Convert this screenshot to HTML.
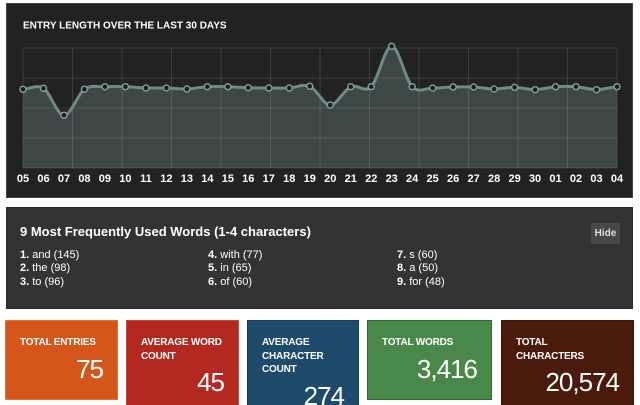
<!DOCTYPE html>
<html><head><meta charset="utf-8">
<style>
html,body{margin:0;padding:0;background:#fff;width:640px;height:405px;overflow:hidden;}
body{position:relative;font-family:"Liberation Sans",sans-serif;}
.p2{position:absolute;left:6px;top:207px;width:625px;height:100px;background:#333;border:1px solid #2a2a2a;}
.t2{position:absolute;left:20px;top:223px;font-size:13px;font-weight:bold;color:#fff;line-height:17px;white-space:nowrap;}
.col{position:absolute;top:249px;font-size:11px;line-height:13.3px;color:#fff;white-space:nowrap;}
.col b{font-weight:bold;}
.hide{position:absolute;left:591px;top:223px;width:29px;height:21px;background:#474747;color:#ddd;font-size:10px;font-weight:bold;line-height:21px;text-align:center;}
.box{position:absolute;top:320px;box-sizing:border-box;border:1px solid;color:#fff;padding:15px 14px 0 14px;overflow:hidden;}
.lab{font-size:10px;font-weight:bold;line-height:13.5px;letter-spacing:-0.2px;}
.num{font-size:26px;line-height:30px;margin-top:4px;text-align:right;letter-spacing:-1px;}
</style></head><body>
<svg width="640" height="405" style="position:absolute;left:0;top:0" xmlns="http://www.w3.org/2000/svg">
<rect x="6.5" y="3.5" width="626" height="194" fill="#222" stroke="#444" stroke-width="1"/>
<text x="23" y="28.5" font-family="Liberation Sans, sans-serif" font-size="10" font-weight="bold" fill="#fff">ENTRY LENGTH OVER THE LAST 30 DAYS</text>
<path d="M23,89.3 C29.83,89.13 36.65,83.97 43.48,88.3 C50.31,92.63 57.14,115.13 63.97,115.3 C70.80,115.47 77.62,94.07 84.45,89.3 C91.28,84.53 98.10,87.13 104.93,86.7 C111.76,86.27 118.58,86.48 125.41,86.7 C132.24,86.92 139.07,87.78 145.90,88 C152.73,88.22 159.55,87.83 166.38,88 C173.21,88.17 180.03,89.22 186.86,89 C193.69,88.78 200.51,87.08 207.34,86.7 C214.17,86.32 221.00,86.53 227.83,86.7 C234.66,86.87 241.48,87.48 248.31,87.7 C255.14,87.92 261.96,87.95 268.79,88 C275.62,88.05 282.45,88.28 289.28,88 C296.11,87.72 302.93,83.47 309.76,86.3 C316.59,89.13 323.41,104.93 330.24,105 C337.07,105.07 343.89,89.75 350.72,86.7 C357.55,83.65 364.38,93.43 371.21,86.7 C378.04,79.97 384.86,46.3 391.69,46.3 C398.52,46.3 405.34,79.75 412.17,86.7 C419.00,93.65 425.83,87.95 432.66,88 C439.49,88.05 446.31,87.17 453.14,87 C459.97,86.83 466.79,86.67 473.62,87 C480.45,87.33 487.27,88.95 494.10,89 C500.93,89.05 507.76,87.18 514.59,87.3 C521.42,87.42 528.24,89.8 535.07,89.7 C541.90,89.6 548.72,87.2 555.55,86.7 C562.38,86.2 569.20,86.2 576.03,86.7 C582.86,87.2 589.69,89.7 596.52,89.7 C603.35,89.7 610.17,87.2 617,86.7 L617,168 L23,168 Z" fill="#3d4746"/>
<g stroke="rgba(255,255,255,0.12)" stroke-width="1" fill="none">
<path d="M23,48H617M23,78H617M23,108H617M23,138H617M23,168H617"/>
<path d="M23,48V168M72.5,48V168M122,48V168M171.5,48V168M221,48V168M270.5,48V168M320,48V168M369.5,48V168M419,48V168M468.5,48V168M518,48V168M567.5,48V168M617,48V168"/>
</g>
<path d="M23,89.3 C29.83,89.13 36.65,83.97 43.48,88.3 C50.31,92.63 57.14,115.13 63.97,115.3 C70.80,115.47 77.62,94.07 84.45,89.3 C91.28,84.53 98.10,87.13 104.93,86.7 C111.76,86.27 118.58,86.48 125.41,86.7 C132.24,86.92 139.07,87.78 145.90,88 C152.73,88.22 159.55,87.83 166.38,88 C173.21,88.17 180.03,89.22 186.86,89 C193.69,88.78 200.51,87.08 207.34,86.7 C214.17,86.32 221.00,86.53 227.83,86.7 C234.66,86.87 241.48,87.48 248.31,87.7 C255.14,87.92 261.96,87.95 268.79,88 C275.62,88.05 282.45,88.28 289.28,88 C296.11,87.72 302.93,83.47 309.76,86.3 C316.59,89.13 323.41,104.93 330.24,105 C337.07,105.07 343.89,89.75 350.72,86.7 C357.55,83.65 364.38,93.43 371.21,86.7 C378.04,79.97 384.86,46.3 391.69,46.3 C398.52,46.3 405.34,79.75 412.17,86.7 C419.00,93.65 425.83,87.95 432.66,88 C439.49,88.05 446.31,87.17 453.14,87 C459.97,86.83 466.79,86.67 473.62,87 C480.45,87.33 487.27,88.95 494.10,89 C500.93,89.05 507.76,87.18 514.59,87.3 C521.42,87.42 528.24,89.8 535.07,89.7 C541.90,89.6 548.72,87.2 555.55,86.7 C562.38,86.2 569.20,86.2 576.03,86.7 C582.86,87.2 589.69,89.7 596.52,89.7 C603.35,89.7 610.17,87.2 617,86.7" fill="none" stroke="#6d8a87" stroke-width="3"/>
<g fill="#1c1c1c" stroke="#7d9a96" stroke-width="1.5">
<circle cx="23" cy="89.3" r="3"/><circle cx="43.48" cy="88.3" r="3"/><circle cx="63.97" cy="115.3" r="3"/><circle cx="84.45" cy="89.3" r="3"/><circle cx="104.93" cy="86.7" r="3"/><circle cx="125.41" cy="86.7" r="3"/><circle cx="145.90" cy="88" r="3"/><circle cx="166.38" cy="88" r="3"/><circle cx="186.86" cy="89" r="3"/><circle cx="207.34" cy="86.7" r="3"/><circle cx="227.83" cy="86.7" r="3"/><circle cx="248.31" cy="87.7" r="3"/><circle cx="268.79" cy="88" r="3"/><circle cx="289.28" cy="88" r="3"/><circle cx="309.76" cy="86.3" r="3"/><circle cx="330.24" cy="105" r="3"/><circle cx="350.72" cy="86.7" r="3"/><circle cx="371.21" cy="86.7" r="3"/><circle cx="391.69" cy="46.3" r="3"/><circle cx="412.17" cy="86.7" r="3"/><circle cx="432.66" cy="88" r="3"/><circle cx="453.14" cy="87" r="3"/><circle cx="473.62" cy="87" r="3"/><circle cx="494.10" cy="89" r="3"/><circle cx="514.59" cy="87.3" r="3"/><circle cx="535.07" cy="89.7" r="3"/><circle cx="555.55" cy="86.7" r="3"/><circle cx="576.03" cy="86.7" r="3"/><circle cx="596.52" cy="89.7" r="3"/><circle cx="617" cy="86.7" r="3"/>
</g>
<g font-family="Liberation Sans, sans-serif" font-size="11" font-weight="bold" fill="#fff" text-anchor="middle">
<text x="23" y="182">05</text><text x="43.48" y="182">06</text><text x="63.97" y="182">07</text><text x="84.45" y="182">08</text><text x="104.93" y="182">09</text><text x="125.41" y="182">10</text><text x="145.90" y="182">11</text><text x="166.38" y="182">12</text><text x="186.86" y="182">13</text><text x="207.34" y="182">14</text><text x="227.83" y="182">15</text><text x="248.31" y="182">16</text><text x="268.79" y="182">17</text><text x="289.28" y="182">18</text><text x="309.76" y="182">19</text><text x="330.24" y="182">20</text><text x="350.72" y="182">21</text><text x="371.21" y="182">22</text><text x="391.69" y="182">23</text><text x="412.17" y="182">24</text><text x="432.66" y="182">25</text><text x="453.14" y="182">26</text><text x="473.62" y="182">27</text><text x="494.10" y="182">28</text><text x="514.59" y="182">29</text><text x="535.07" y="182">30</text><text x="555.55" y="182">01</text><text x="576.03" y="182">02</text><text x="596.52" y="182">03</text><text x="617" y="182">04</text>
</g>
</svg>

<div class="p2"></div>
<div class="t2">9 Most Frequently Used Words (1-4 characters)</div>
<div class="hide">Hide</div>
<div class="col" style="left:20px"><b>1.</b> and (145)<br><b>2.</b> the (98)<br><b>3.</b> to (96)</div>
<div class="col" style="left:208px"><b>4.</b> with (77)<br><b>5.</b> in (65)<br><b>6.</b> of (60)</div>
<div class="col" style="left:397px"><b>7.</b> s (60)<br><b>8.</b> a (50)<br><b>9.</b> for (48)</div>

<div class="box" style="left:5px;width:113px;height:80px;background:#d4561a;border-color:#e8703f;">
<div class="lab">TOTAL ENTRIES</div><div class="num">75</div></div>
<div class="box" style="left:126px;width:113px;height:85px;background:#b3291f;border-color:#c9433a;border-bottom:none;">
<div class="lab">AVERAGE WORD<br>COUNT</div><div class="num">45</div></div>
<div class="box" style="left:247px;width:112px;height:85px;background:#1e4a6b;border-color:#173c5a;border-bottom:none;">
<div class="lab">AVERAGE<br>CHARACTER<br>COUNT</div><div class="num">274</div></div>
<div class="box" style="left:367px;width:125px;height:80px;background:#4a8849;border-color:#2f6b30;">
<div class="lab">TOTAL WORDS</div><div class="num">3,416</div></div>
<div class="box" style="left:501px;width:133px;height:85px;background:#4a1b0c;border-color:#3a1408;border-bottom:none;">
<div class="lab">TOTAL<br>CHARACTERS</div><div class="num">20,574</div></div>
</body></html>
